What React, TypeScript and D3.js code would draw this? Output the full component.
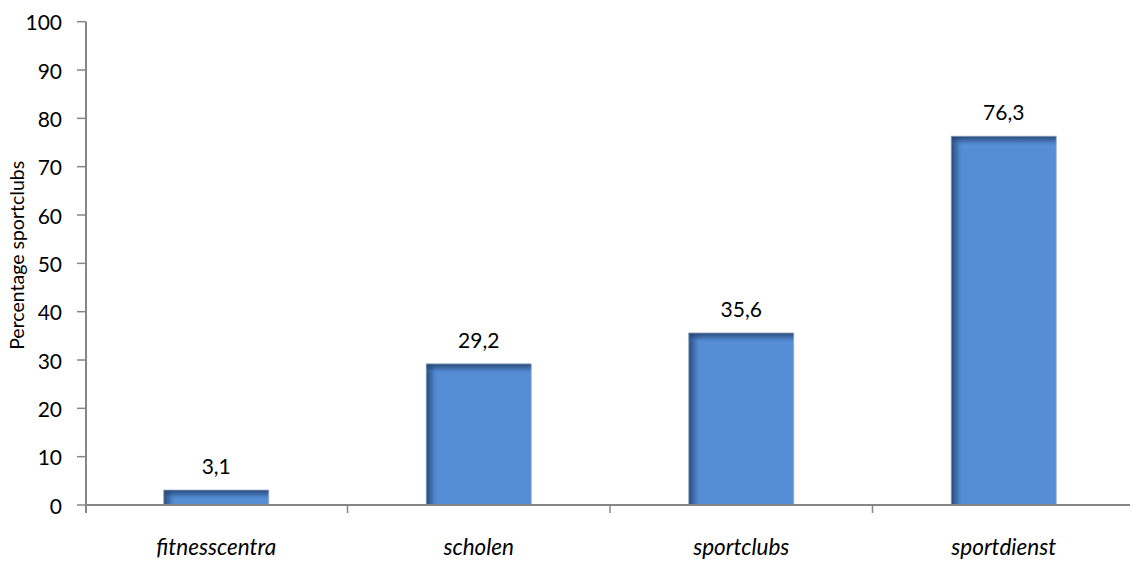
import React from "react";
import * as d3 from "d3";

const categories = ["fitnesscentra", "scholen", "sportclubs", "sportdienst"];
const values = [3.1, 29.2, 35.6, 76.3];
const valueLabels = ["3,1", "29,2", "35,6", "76,3"];
const yTicks = [0, 10, 20, 30, 40, 50, 60, 70, 80, 90, 100];
const yTitle = "Percentage sportclubs";

const W = 1130;
const H = 563;
const FONT = "Lato, 'Open Sans', sans-serif";

export default function App() {
  const x = d3
    .scaleBand<string>()
    .domain(categories)
    .range([85, 1135])
    .paddingInner(0.6)
    .paddingOuter(0.3);
  const y = d3.scaleLinear().domain([0, 100]).range([505, 21.7]);
  const step = x.step();
  const bw = x.bandwidth();
  const axisColor = "#868686";
  const axisX = 86;

  const boundaries = categories.map((c) => (x(c) as number) + bw / 2 - step / 2).slice(1);

  return (
    <svg
      width={W}
      height={H}
      style={{ position: "absolute", left: 0, top: 0, background: "#fff" }}
      fontFamily={FONT}
    >
      <defs>
        <linearGradient id="leftShade" x1="0" y1="0" x2="1" y2="0">
          <stop offset="0" stopColor="#1f3a66" stopOpacity="0.85" />
          <stop offset="0.5" stopColor="#2c4f85" stopOpacity="0.45" />
          <stop offset="1" stopColor="#558ed5" stopOpacity="0" />
        </linearGradient>
        <linearGradient id="topShade" x1="0" y1="0" x2="0" y2="1">
          <stop offset="0" stopColor="#1f3a66" stopOpacity="0.85" />
          <stop offset="0.5" stopColor="#2c4f85" stopOpacity="0.45" />
          <stop offset="1" stopColor="#558ed5" stopOpacity="0" />
        </linearGradient>
      </defs>

      {/* bars */}
      {categories.map((c, i) => {
        const bx = x(c) as number;
        const top = y(values[i]);
        const h = y(0) - top;
        const sh = Math.min(10, h);
        return (
          <g key={c}>
            <rect x={bx} y={top} width={bw} height={h} fill="#558ed5" />
            <rect x={bx} y={top} width={12} height={h} fill="url(#leftShade)" />
            <rect x={bx} y={top} width={bw} height={sh} fill="url(#topShade)" />
            <rect
              x={bx}
              y={top}
              width={bw}
              height={h}
              fill="none"
              stroke="#9fb0c6"
              strokeWidth={1}
              opacity={0.8}
            />
          </g>
        );
      })}

      {/* x axis */}
      <line x1={axisX} x2={W} y1={y(0)} y2={y(0)} stroke={axisColor} strokeWidth={2} />
      {boundaries.map((bx, i) => (
        <line key={i} x1={bx} x2={bx} y1={y(0)} y2={y(0) + 8} stroke={axisColor} strokeWidth={1.5} />
      ))}

      {/* y axis */}
      <line x1={axisX} x2={axisX} y1={y(100)} y2={y(0) + 8} stroke={axisColor} strokeWidth={2} />
      {yTicks.map((t) => (
        <g key={t}>
          <line x1={axisX - 9} x2={axisX} y1={y(t)} y2={y(t)} stroke={axisColor} strokeWidth={1.5} />
          <text
            x={62}
            y={y(t)}
            textAnchor="end"
            dominantBaseline="central"
            fontSize={21}
            fill="#000"
          >
            {t}
          </text>
        </g>
      ))}

      {/* value labels */}
      {categories.map((c, i) => (
        <text
          key={c}
          x={(x(c) as number) + bw / 2}
          y={y(values[i]) - 16}
          textAnchor="middle"
          fontSize={21}
          fill="#000"
        >
          {valueLabels[i]}
        </text>
      ))}

      {/* category labels */}
      {categories.map((c) => (
        <text
          key={c}
          x={(x(c) as number) + bw / 2}
          y={555}
          textAnchor="middle"
          fontSize={22.5}
          fontStyle="italic"
          fill="#000"
        >
          {c}
        </text>
      ))}

      {/* y title */}
      <text
        transform={`translate(24, ${(y(0) + y(100)) / 2 - 8}) rotate(-90)`}
        textAnchor="middle"
        fontSize={19.5}
        fill="#000"
      >
        {yTitle}
      </text>
    </svg>
  );
}
